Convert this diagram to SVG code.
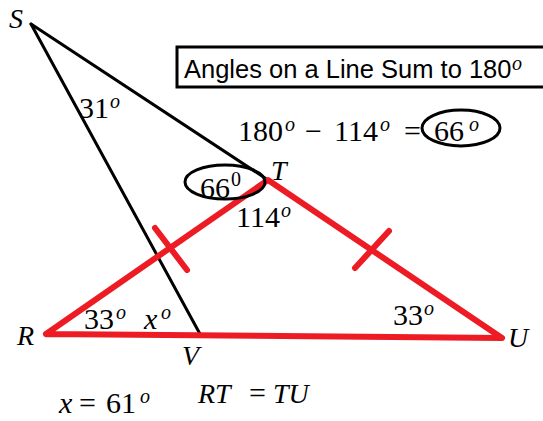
<svg xmlns="http://www.w3.org/2000/svg" width="543" height="421" viewBox="0 0 543 421">
<style>
.m{font-family:"Liberation Serif","DejaVu Serif",serif;font-size:30px;fill:#000}
.l{font-family:"Liberation Serif","DejaVu Serif",serif;font-size:28px;font-style:italic;fill:#000}
.i{font-style:italic}
.sup{font-family:"Liberation Serif","DejaVu Serif",serif;font-size:20px;font-style:italic;fill:#000}
.blk{stroke:#000;stroke-width:3;fill:none;stroke-linecap:round}
.red{stroke:#ed1c24;stroke-width:6;fill:none;stroke-linecap:round;stroke-linejoin:round}
.ell{fill:none;stroke:#000;stroke-width:3}
</style>
<rect width="543" height="421" fill="#fff"/>
<g id="connectors">
<line class="blk" x1="31" y1="24" x2="268" y2="180"/>
<line class="blk" x1="31" y1="24" x2="200" y2="334"/>
<polyline class="red" points="46,334 268,180 502,338 46,334"/>
<line class="red" x1="155" y1="228" x2="187" y2="270"/>
<line class="red" x1="389" y1="231" x2="355" y2="268"/>
</g>
<g id="box">
<rect x="177" y="47" width="380" height="40" fill="#fff" stroke="#000" stroke-width="3"/>
<text x="184" y="78" font-family="Liberation Sans,Arial,sans-serif" font-size="25.5">Angles on a Line Sum to 180</text>
<text class="sup" x="512" y="70">o</text>
</g>
<g id="eq">
<text class="m" x="238" y="141">180</text>
<text class="sup" x="285" y="131">o</text>
<text class="m" x="305" y="141">−</text>
<text class="m" x="334" y="141">114</text>
<text class="sup" x="380" y="131">o</text>
<text class="m" x="404" y="141">=</text>
<text class="m" x="434" y="141">66</text>
<text class="sup" x="469" y="131">o</text>
<ellipse class="ell" cx="461" cy="128" rx="39" ry="18"/>
</g>
<g id="angleT">
<text class="m" x="200" y="198">66</text>
<text class="sup" x="231" y="186" style="font-style:normal">0</text>
<ellipse class="ell" cx="225" cy="182" rx="40" ry="17"/>
<text class="m" x="236" y="227">114</text>
<text class="sup" x="281" y="217">o</text>
</g>
<g id="labels">
<text class="l" x="9" y="28">S</text>
<text class="l" x="271" y="180">T</text>
<text class="l" x="17" y="345">R</text>
<text class="l" x="508" y="347">U</text>
<text class="l" x="182" y="365">V</text>
<text class="m" x="79" y="118">31</text>
<text class="sup" x="110" y="108">o</text>
<text class="m" x="84" y="329">33</text>
<text class="sup" x="116" y="319">o</text>
<text class="m i" x="144" y="329">x</text>
<text class="sup" x="161" y="319">o</text>
<text class="m" x="393" y="325">33</text>
<text class="sup" x="424" y="315">o</text>
<text class="m i" x="59" y="413">x</text>
<text class="m" x="79" y="413">=</text>
<text class="m" x="106" y="413">61</text>
<text class="sup" x="140" y="403">o</text>
<text class="l" x="198" y="403">RT</text>
<text class="m" x="249" y="403">=</text>
<text class="l" x="273" y="403">TU</text>
</g>
</svg>
